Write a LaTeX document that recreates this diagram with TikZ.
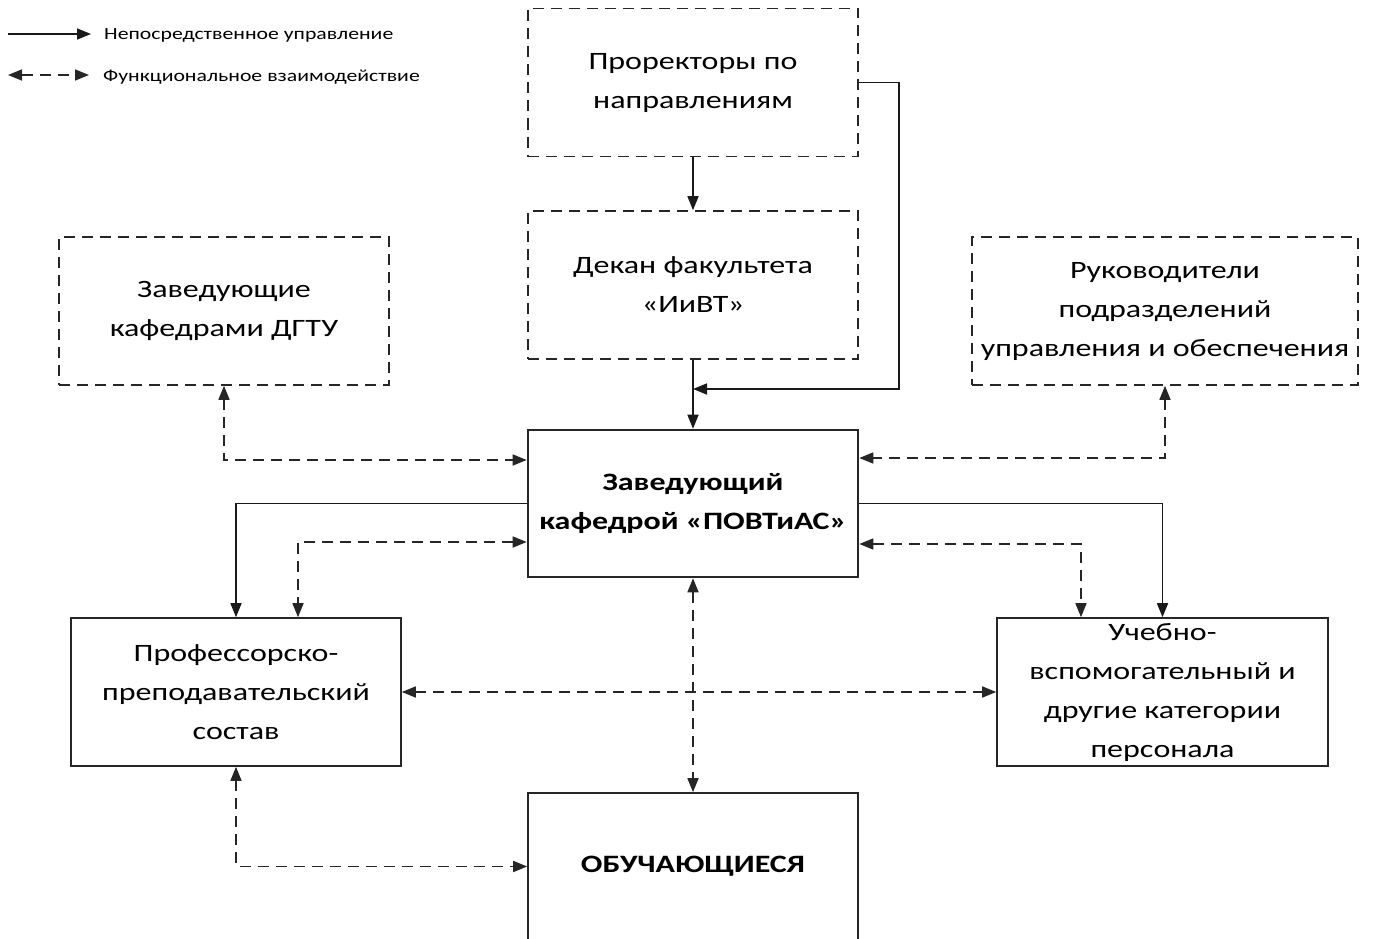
\documentclass[tikz,border=0pt]{standalone}
\usepackage{fontspec}
\setmainfont{Carlito}[FakeStretch=1.28]
\usetikzlibrary{arrows.meta}

\tikzset{
    unit/.style={draw=black!85, line width=1.6pt, minimum width=330pt, minimum height=148pt,
        inner sep=0pt, align=center, font=\fontsize{25}{39}\selectfont},
    dashunit/.style={unit, dash pattern=on 11pt off 7pt},
    headunit/.style={unit, line width=2.6pt, font=\fontsize{25}{39}\selectfont\bfseries},
    direct/.style={draw=black!90, line width=1.6pt, -{Triangle[length=14pt,width=11pt]}},
    func/.style={draw=black!85, line width=1.6pt, dash pattern=on 11pt off 7pt,
        {Triangle[length=14pt,width=11pt]}-{Triangle[length=14pt,width=11pt]}},
    legtext/.style={anchor=west, inner sep=0pt, font=\fontsize{17}{20}\selectfont}
}

\begin{document}
\begin{tikzpicture}[x=1pt,y=-1pt]
    \useasboundingbox (0,0) rectangle (1373,939);

    % legend
    \coordinate (la) at (8,34);
    \coordinate (lb) at (91,34);
    \coordinate (lc) at (8,75);
    \coordinate (ld) at (89,75);
    \draw[direct] (la) -- (lb);
    \draw[func] (lc) -- (ld);
    \node[legtext] (legdirect) at (104,35) {Непосредственное управление};
    \node[legtext] (legfunc) at (103,77) {Функциональное взаимодействие};

    % boxes
    \node[dashunit] (prorect) at (693,82.5) {Проректоры по\\направлениям};
    \node[dashunit] (dean) at (693,285) {Декан факультета\\«ИиВТ»};
    \node[dashunit] (dgtu) at (224,311) {Заведующие\\кафедрами ДГТУ};
    \node[dashunit, minimum width=386pt] (ruk) at (1165,311) {Руководители\\подразделений\\управления и обеспечения};
    \node[headunit, minimum height=147pt] (head) at (693,503.5) {Заведующий\\кафедрой «ПОВТиАС»};
    \node[unit] (pps) at (236,692) {Профессорско-\\преподавательский\\состав};
    \node[unit, minimum width=331pt] (uvp) at (1162.5,692) {Учебно-\\вспомогательный и\\другие категории\\персонала};
    \node[unit, minimum height=147pt, font=\fontsize{25}{39}\selectfont\bfseries] (stud) at (693,866.5) {ОБУЧАЮЩИЕСЯ};

    % direct control
    \coordinate (bend) at (899,389);
    \draw[direct] (prorect) -- (dean);
    \draw[direct] (dean) -- (head);
    \draw[direct] (prorect.east) -| (bend) -- (bend -| head.north);
    \draw[direct] (head.west) -| (pps.north);
    \draw[direct] (head.east) -| (uvp.north);

    % functional links
    \draw[func] (dgtu.south) |- ([yshift=43.5pt]head.west);
    \draw[func] (ruk.south) |- ([yshift=45.5pt]head.east);
    \draw[func] ([yshift=-38.5pt]head.west) -| ([xshift=62pt]pps.north);
    \draw[func] ([yshift=-40.5pt]head.east) -| ([xshift=-81.5pt]uvp.north);
    \draw[func] (head.south) -- (stud.north);
    \draw[func] (pps.east) -- (uvp.west);
    \draw[func] (pps.south) |- (stud.west);
\end{tikzpicture}
\end{document}
